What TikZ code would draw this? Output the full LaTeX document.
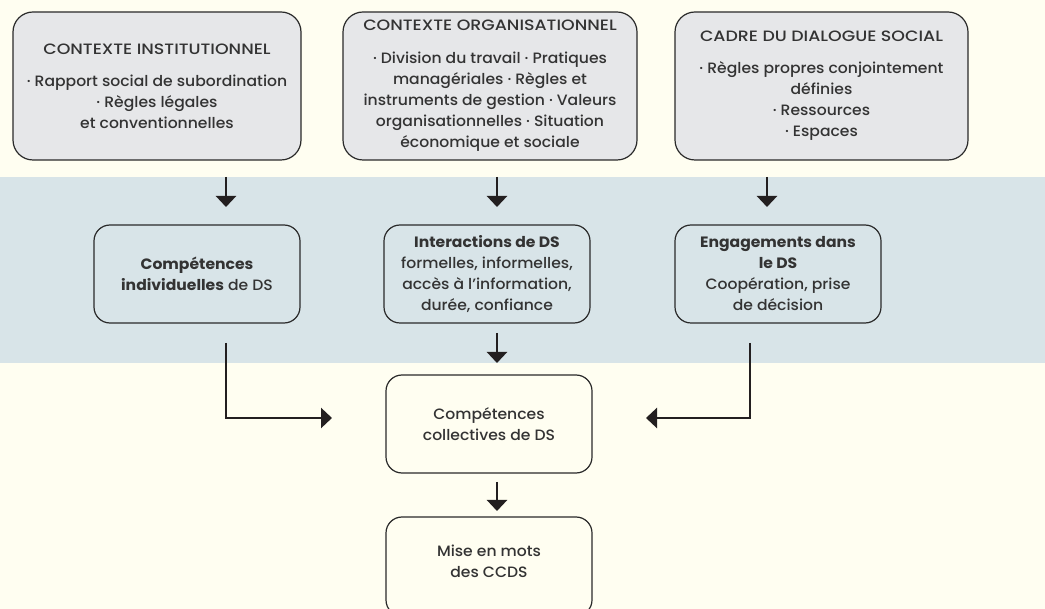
\documentclass[tikz,border=0pt]{standalone}
\usepackage{fontspec}
\setmainfont{Poppins}[UprightFont={Poppins Medium}, BoldFont={Poppins Bold}, FakeStretch=1.04]
\newfontfamily\titlefont{Poppins}[UprightFont={Poppins Medium}, FakeStretch=1.16]
\usetikzlibrary{arrows.meta}
\definecolor{cream}{HTML}{FFFEF1}
\definecolor{band}{HTML}{D8E4E8}
\definecolor{grayfill}{HTML}{E6E7E9}
\definecolor{ink}{HTML}{333333}
\definecolor{edge}{HTML}{2A2A2A}
\definecolor{arrowink}{HTML}{231F20}
\begin{document}
\begin{tikzpicture}[x=1pt,y=-1pt,
  boxbase/.style={draw=edge, line width=1.2pt, inner sep=0pt, align=center,
    text=ink, font=\fontsize{15}{21}\selectfont},
  topbox/.style={boxbase, fill=grayfill, rounded corners=20pt,
    minimum height=148pt},
  midbox/.style={boxbase, fill=band, rounded corners=16pt,
    minimum width=206pt, minimum height=98pt},
  botbox/.style={boxbase, fill=cream, rounded corners=16pt,
    minimum width=206pt},
  plaintext/.style={inner sep=0pt, align=center, text=ink,
    font=\fontsize{15}{21}\selectfont},
  arr/.style={draw=arrowink, line width=2.5pt,
    -{Triangle[width=20pt,length=11pt]}}]
\useasboundingbox (0,0) rectangle (1045,609);
\clip (0,0) rectangle (1045,609);
\fill[cream] (0,0) rectangle (1045,609);
\fill[band] (0,177) rectangle (1045,363);

% top boxes
\node[topbox, minimum width=288pt] (b1) at (157,86)
  {{\titlefont CONTEXTE INSTITUTIONNEL}\\[11pt]
   · Rapport social de subordination\\
   · Règles légales\\
   et conventionnelles};
\node[topbox, minimum width=294pt] (b2) at (490,86)
  {{\titlefont CONTEXTE ORGANISATIONNEL}\\[12pt]
   · Division du travail · Pratiques\\
   managériales · Règles et\\
   instruments de gestion · Valeurs\\
   organisationnelles · Situation\\
   économique et sociale};
\node[topbox, minimum width=293pt] (b3) at (821.5,86)
  {{\titlefont CADRE DU DIALOGUE SOCIAL}\\[11pt]
   · Règles propres conjointement\\
   définies\\
   · Ressources\\
   · Espaces};

% middle boxes
\node[midbox] (b4) at (197,274)
  {\textbf{Compétences}\\
   \textbf{individuelles} de DS};
\node[midbox] (b5) at (487,274)
  {\textbf{Interactions de DS}\\
   formelles, informelles,\\
   accès à l’information,\\
   durée, confiance};
\node[midbox] (b6) at (778,274)
  {\textbf{Engagements dans}\\
   \textbf{le DS}\\
   Coopération, prise\\
   de décision};

% bottom boxes
\node[botbox, minimum height=98pt] (b7) at (489,424)
  {Compétences\\collectives de DS};
\node[botbox, minimum height=99pt] (b8) at (489,566.5) {};
\node[plaintext] (t8) at (489,561.5) {Mise en mots\\des CCDS};

% arrow end points
\coordinate (a1s) at (226,177); \coordinate (a1e) at (226,207);
\coordinate (a2s) at (497,177); \coordinate (a2e) at (497,207);
\coordinate (a3s) at (767,177); \coordinate (a3e) at (767,207);
\coordinate (a4s) at (497,333); \coordinate (a4e) at (497,363);
\coordinate (a5s) at (497,482); \coordinate (a5e) at (497,511);
\coordinate (e1s) at (226,343); \coordinate (e1e) at (332,418);
\coordinate (e2s) at (750,343); \coordinate (e2e) at (646,418);

\draw[arr] (a1s) -- (a1e);
\draw[arr] (a2s) -- (a2e);
\draw[arr] (a3s) -- (a3e);
\draw[arr] (a4s) -- (a4e);
\draw[arr] (a5s) -- (a5e);
\draw[arr] (e1s) |- (e1e);
\draw[arr] (e2s) |- (e2e);
\end{tikzpicture}
\end{document}
